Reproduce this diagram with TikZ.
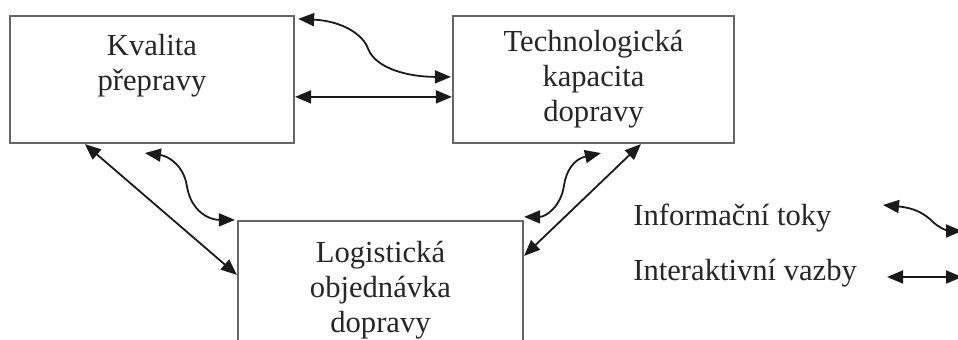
\documentclass[tikz,border=0pt]{standalone}
\usepackage{fontspec}
\setmainfont{Liberation Serif}
\usetikzlibrary{arrows.meta,calc}
\definecolor{boxline}{HTML}{666666}
\definecolor{ink}{HTML}{1A1A1A}
\definecolor{txt}{HTML}{262626}
\begin{document}
\begin{tikzpicture}[x=0.5pt,y=-0.5pt,
  blok/.style={draw=boxline,line width=1.1pt,rectangle,align=center,text=txt,
    font=\fontsize{15.3pt}{17.5pt}\selectfont,inner sep=0pt},
  legtext/.style={anchor=west,text=txt,inner sep=0pt,font=\fontsize{15.3pt}{17.5pt}\selectfont},
  conn/.style={draw=ink,line width=0.9pt,{Triangle[length=8pt,width=6.5pt]}-{Triangle[length=8pt,width=6.5pt]}}]
\useasboundingbox (0,0) rectangle (958,340);
\clip (0,0) rectangle (958,340);
\fill[white] (0,0) rectangle (958,340);
\node[blok,minimum width=142pt,minimum height=63.5pt] (kval) at (152,79.5) {Kvalita\\přepravy\\~};
\node[blok,minimum width=140.5pt,minimum height=63.5pt] (tech) at (593.5,79.5) {Technologická\\kapacita\\dopravy};
\node[blok,minimum width=142.5pt,minimum height=69pt] (logi) at (380.5,290) {Logistická\\objednávka\\dopravy};
\node[legtext] (linf) at (633,218) {Informační toky};
\node[legtext] (lint) at (633,273) {Interaktivní vazby};
\coordinate (w1a) at (883,205);
\coordinate (w1b) at (962,231);
\coordinate (s1a) at (887,277);
\coordinate (s1b) at (962,277);
% Kvalita - Technologicka
\draw[conn] ($(kval.north east)+(3,4)$) .. controls +(43,2) and +(-5,-15) .. ($(kval.north east)+(73,34)$)
  .. controls +(8,20) and +(-42,0) .. ($(tech.north west)+(-1,62)$);
\draw[conn] ($(kval.north east)+(0,82)$) -- ($(tech.north west)+(0,82)$);
% Kvalita - Logisticka
\draw[conn] ($(kval.south west)+(76,0)$) -- ($(logi.north west)+(0,55)$);
\draw[conn] ($(kval.south west)+(136,9)$) .. controls +(24,3) and +(-3,-20) .. ($(kval.south west)+(178,42)$)
  .. controls +(4,25) and +(-26,0) .. ($(logi.north west)+(-2,0)$);
% Technologicka - Logisticka
\draw[conn] ($(tech.south west)+(149,9)$) .. controls +(-27,6) and +(2,-15) .. ($(tech.south west)+(112,42)$)
  .. controls +(-3,20) and +(22,0) .. ($(logi.north east)+(0,-3)$);
\draw[conn] ($(tech.south west)+(189,0)$) -- ($(logi.north east)+(0,36)$);
% legend
\draw[conn] (w1a) .. controls (915,208) and (925,214) .. (933,222) .. controls (940,229) and (950,231) .. (w1b);
\draw[conn] (s1a) -- (s1b);
\end{tikzpicture}
\end{document}
